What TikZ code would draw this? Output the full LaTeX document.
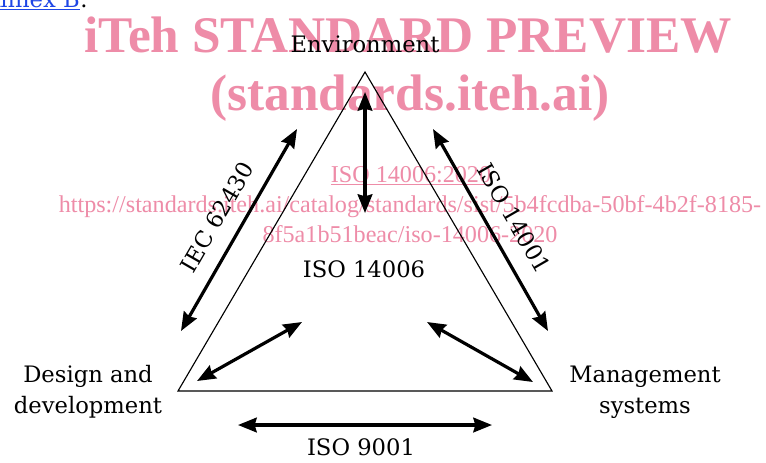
\documentclass[tikz,border=0pt]{standalone}
\usepackage{fontspec}
\setmainfont{DejaVu Serif}
\newfontfamily\wmfont{Liberation Serif}
\usetikzlibrary{arrows.meta}
\definecolor{wmpink}{RGB}{238,140,168}
\definecolor{linkblue}{RGB}{30,70,230}
\begin{document}
\begin{tikzpicture}[x=0.75pt,y=-0.75pt,
  tri/.style={draw=black, line width=0.85pt, line join=miter},
  biarrow/.style={line width=2.4pt, {Stealth[length=14pt,width=11pt,inset=1.5pt]}-{Stealth[length=14pt,width=11pt,inset=1.5pt]}},
  lbl/.style={font=\fontsize{17}{23}\selectfont, inner sep=0pt, anchor=base},
  wm/.style={text=wmpink, inner sep=0pt, anchor=base},
  wmbig/.style={wm, font=\wmfont\bfseries\fontsize{38.5}{40}\selectfont},
  wmlink/.style={wm, font=\wmfont\fontsize{18.1}{22}\selectfont},
]
\useasboundingbox (0,0) rectangle (766,462);
\fill[white] (0,0) rectangle (766,462);

% clipped link text at top left
\begin{scope}
  \clip (0,0) rectangle (766,462);
  \node[lbl, anchor=base east, text=linkblue] (annex) at (80,7) {\underline{Annex B}};
  \node[lbl, anchor=base west] (annexdot) at (annex.base east) {.};
\end{scope}

% watermark
\node[wmbig] (wm1) at (408,52) {iTeh STANDARD PREVIEW};
\node[wmbig] (wm2) at (410,110) {(standards.iteh.ai)};
\node[wmlink] (wm3) at (411,182) {\underline{ISO 14006:2020}};
\node[wmlink] (wm4) at (410,212) {https://standards.iteh.ai/catalog/standards/sist/5b4fcdba-50bf-4b2f-8185-};
\node[wmlink] (wm5) at (410,242) {8f5a1b51beac/iso-14006-2020};

% triangle
\coordinate (A) at (365,72);
\coordinate (L) at (178,391);
\coordinate (R) at (552,391);
\draw[tri] (A) -- (L) -- (R) -- cycle;

% arrow end points
\coordinate (v1) at (365,92);
\coordinate (v2) at (365,213);
\coordinate (lo1) at (297,129);
\coordinate (lo2) at (181,331);
\coordinate (ro1) at (433,129);
\coordinate (ro2) at (548,331);
\coordinate (li1) at (302,322);
\coordinate (li2) at (197,381);
\coordinate (ri1) at (427,322);
\coordinate (ri2) at (533,382);
\coordinate (b1) at (238,425);
\coordinate (b2) at (492,425);

\draw[biarrow] (v1) -- (v2);
\draw[biarrow] (lo1) -- (lo2);
\draw[biarrow] (ro1) -- (ro2);
\draw[biarrow] (li1) -- (li2);
\draw[biarrow] (ri1) -- (ri2);
\draw[biarrow] (b1) -- (b2);

% labels
\node[lbl] (env) at (365,52) {Environment};
\node[lbl] (iso14006) at (364,277) {ISO 14006};
\node[lbl] (des1) at (88,382) {Design and};
\node[lbl] (des2) at (88,413) {development};
\node[lbl] (man1) at (645,382) {Management};
\node[lbl] (man2) at (645,413) {systems};
\node[lbl] (iso9001) at (361,455) {ISO 9001};
\node[lbl, anchor=center, rotate=60] (iec) at (217,217) {IEC 62430};
\node[lbl, anchor=center, rotate=-60] (iso14001) at (514,218) {ISO 14001};
\end{tikzpicture}
\end{document}
